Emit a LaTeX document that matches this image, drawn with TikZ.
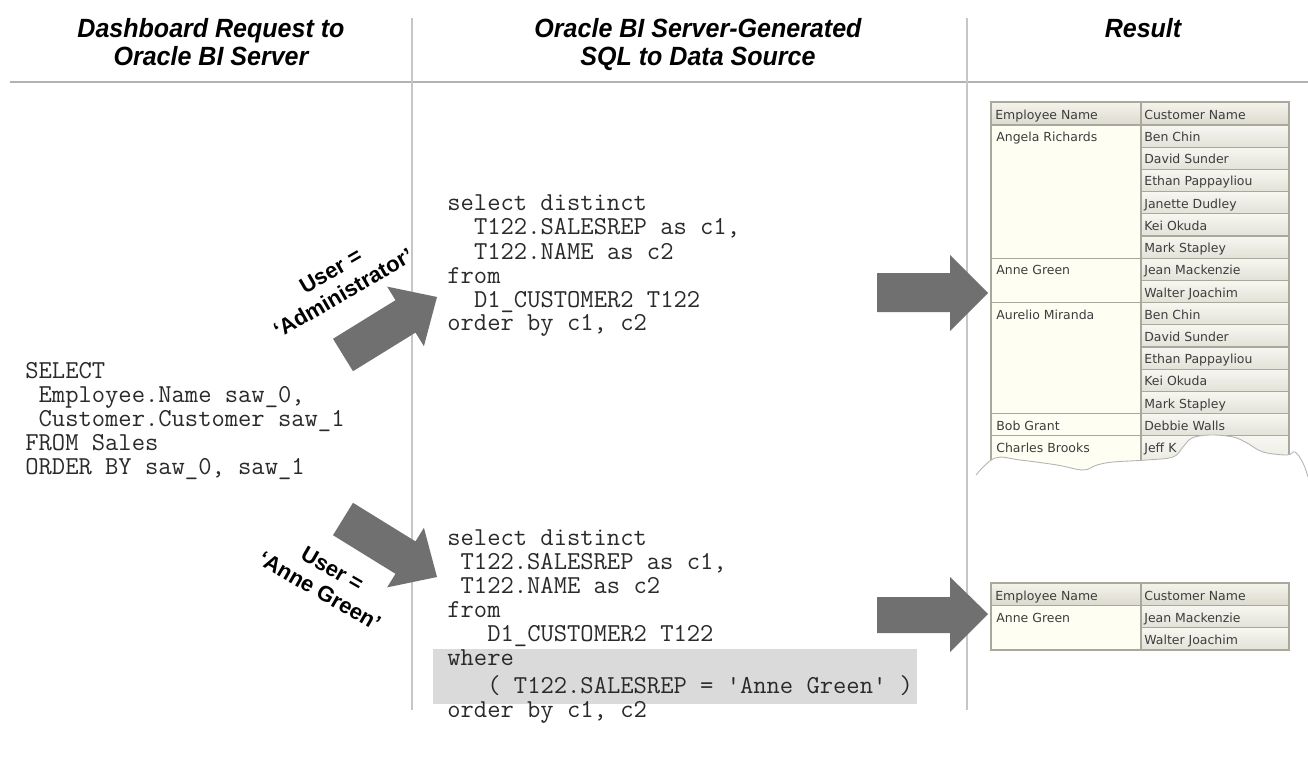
\documentclass[tikz,border=0pt]{standalone}
\usepackage{fontspec}
\setmainfont{Liberation Sans}
\newfontfamily\titlefont[FakeStretch=0.95]{Liberation Sans}
\newfontfamily\tabfont{DejaVu Sans}
\definecolor{arrowgray}{HTML}{707070}
\definecolor{linegray}{HTML}{C6C6C6}
\definecolor{hlinegray}{HTML}{B2B2B2}
\definecolor{codegray}{HTML}{2A2A2A}
\definecolor{hdrtop}{HTML}{F5F4EC}
\definecolor{hdrbot}{HTML}{DCDACE}
\definecolor{custtop}{HTML}{F7F6F0}
\definecolor{custbot}{HTML}{E3E2D8}
\definecolor{empfill}{HTML}{FEFEF3}
\definecolor{cellborder}{HTML}{A9A89C}
\definecolor{tabtext}{HTML}{3D3D3D}
\definecolor{hilite}{HTML}{DADADA}
\definecolor{teargray}{HTML}{B4B4B4}
\begin{document}
\begin{tikzpicture}[x=0.02cm,y=-0.02cm,
  title/.style={font=\titlefont\bfseries\itshape\fontsize{15}{16}\selectfont, anchor=base, inner sep=0},
  code/.style={font=\ttfamily\fontsize{14.7}{15}\selectfont, anchor=base west, inner sep=0, text=codegray},
  lbl/.style={font=\bfseries\fontsize{12.5}{14.5}\selectfont, align=center, inner sep=0},
  celltext/.style={font=\tabfont\fontsize{7.1}{8}\selectfont, anchor=base west, inner sep=0, text=tabtext},
  hdr/.style={top color=hdrtop, bottom color=hdrbot, draw=cellborder, line width=0.6pt},
  emp/.style={fill=empfill, draw=cellborder, line width=0.6pt},
  cust/.style={top color=custtop, bottom color=custbot, draw=cellborder, line width=0.6pt},
  blockarrow/.style={fill=arrowgray, draw=none},
  vdivider/.style={draw=linegray, line width=0.9pt},
  hdivider/.style={draw=hlinegray, line width=1.1pt},
]
\useasboundingbox (0,0) rectangle (1308,770);
\fill[white] (0,0) rectangle (1308,770);

% dividers
\coordinate (h1) at (10,82);
\coordinate (h2) at (1308,82);
\coordinate (v1t) at (412,18);
\coordinate (v1b) at (412,710);
\coordinate (v2t) at (967,18);
\coordinate (v2b) at (967,710);
\draw[hdivider] (h1) -- (h2);
\draw[vdivider] (v1t) -- (v1b);
\draw[vdivider] (v2t) -- (v2b);

% titles
\node[title] (t1a) at (211,38) {Dashboard Request to};
\node[title] (t1b) at (211,66) {Oracle BI Server};
\node[title] (t2a) at (698,38) {Oracle BI Server-Generated};
\node[title] (t2b) at (698,66) {SQL to Data Source};
\node[title] (t3) at (1143,38) {Result};

% left request
\node[code] (q1) at (25,378) {SELECT};
\node[code] (q2) at (38.3,402) {Employee.Name saw\_0,};
\node[code] (q3) at (38.3,426) {Customer.Customer saw\_1};
\node[code] (q4) at (25,450) {FROM Sales};
\node[code] (q5) at (25,474) {ORDER BY saw\_0, saw\_1};

% top SQL
\node[code] (a1) at (447,211) {select distinct};
\node[code] (a2) at (473.7,235) {T122.SALESREP as c1,};
\node[code] (a3) at (473.7,259) {T122.NAME as c2};
\node[code] (a4) at (447,283) {from};
\node[code] (a5) at (473.7,307) {D1\_CUSTOMER2 T122};
\node[code] (a6) at (447,330) {order by c1, c2};

% bottom SQL
\path[fill=hilite] (433,649) rectangle (917,704);
\node[code] (b1) at (447,545) {select distinct};
\node[code] (b2) at (460.3,569) {T122.SALESREP as c1,};
\node[code] (b3) at (460.3,593) {T122.NAME as c2};
\node[code] (b4) at (447,617) {from};
\node[code] (b5) at (487,641) {D1\_CUSTOMER2 T122};
\node[code] (b6) at (447,665) {where};
\node[code] (b7) at (487,693) {( T122.SALESREP = 'Anne Green' )};
\node[code] (b8) at (447,717) {order by c1, c2};

% block arrows
\fill[blockarrow] (333,338.8) -- (395.5,300.2) -- (387.1,286.6) -- (437,297) -- (423.9,346.2) -- (415.5,332.6) -- (353,371.2) -- cycle;
\fill[blockarrow] (353,502.8) -- (415.5,541.4) -- (423.9,527.8) -- (437,577) -- (387.1,587.4) -- (395.5,573.8) -- (333,535.2) -- cycle;
\fill[blockarrow] (877,273) -- (950,273) -- (950,255) -- (988,293) -- (950,331) -- (950,312) -- (877,312) -- cycle;
\fill[blockarrow] (877,597) -- (950,597) -- (950,577) -- (988,614) -- (950,652) -- (950,633) -- (877,633) -- cycle;

% rotated labels
\node[lbl, rotate=30] (l1) at (337,282) {User =\\‘Administrator’};
\node[lbl, rotate=-30] (l2) at (326,580) {User =\\‘Anne Green’};

% top result table
\path[hdr] (991,102) rectangle (1141,125);
\path[hdr] (1141,102) rectangle (1289,125);
\node[celltext] (th1) at (995,119.5) {Employee Name};
\node[celltext] (th2) at (1144,119.5) {Customer Name};

\path[emp] (991,125) rectangle (1141,258.2);
\node[celltext] (e1) at (996,141.6) {Angela Richards};
\path[emp] (991,258.2) rectangle (1141,302.6);
\node[celltext] (e2) at (996,274.8) {Anne Green};
\path[emp] (991,302.6) rectangle (1141,413.6);
\node[celltext] (e3) at (996,319.2) {Aurelio Miranda};
\path[emp] (991,413.6) rectangle (1141,435.8);
\node[celltext] (e4) at (996,430.2) {Bob Grant};
\path[emp] (991,435.8) rectangle (1141,482);
\node[celltext] (e5) at (996,452.4) {Charles Brooks};

\foreach \k/\nm in {0/Ben Chin, 1/David Sunder, 2/Ethan Pappayliou, 3/Janette Dudley, 4/Kei Okuda, 5/Mark Stapley, 6/Jean Mackenzie, 7/Walter Joachim, 8/Ben Chin, 9/David Sunder, 10/Ethan Pappayliou, 11/Kei Okuda, 12/Mark Stapley, 13/Debbie Walls}{
  \path[cust] (1141,{125+22.2*\k}) rectangle (1289,{125+22.2*(\k+1)});
  \node[celltext] (c\k) at (1144,{125+22.2*\k+16.6}) {\nm};
}
\path[cust] (1141,435.8) rectangle (1289,482);
\node[celltext] (c14) at (1144,452.4) {Jeff K};

% torn edge
\fill[white] plot[smooth, tension=0.6] coordinates {(976,475) (995,458) (1020,460) (1057,465) (1083,470) (1097,465) (1113,462) (1147,460) (1173,457) (1183,447) (1192,438) (1210,435) (1233,437) (1247,443) (1263,452) (1287,455) (1295,452) (1303,463) (1308,477)} -- (1308,500) -- (976,500) -- cycle;
\draw[teargray, line width=0.5pt] plot[smooth, tension=0.6] coordinates {(976,475) (995,458) (1020,460) (1057,465) (1083,470) (1097,465) (1113,462) (1147,460) (1173,457) (1183,447) (1192,438) (1210,435) (1233,437) (1247,443) (1263,452) (1287,455) (1295,452) (1303,463) (1308,477)};

% bottom result table
\path[hdr] (991,583) rectangle (1141,605.3);
\path[hdr] (1141,583) rectangle (1289,605.3);
\node[celltext] (bh1) at (995,600) {Employee Name};
\node[celltext] (bh2) at (1144,600) {Customer Name};
\path[emp] (991,605.3) rectangle (1141,650);
\node[celltext] (be1) at (996,622) {Anne Green};
\path[cust] (1141,605.3) rectangle (1289,627.6);
\node[celltext] (bc1) at (1144,622) {Jean Mackenzie};
\path[cust] (1141,627.6) rectangle (1289,650);
\node[celltext] (bc2) at (1144,644.3) {Walter Joachim};
\end{tikzpicture}
\end{document}
